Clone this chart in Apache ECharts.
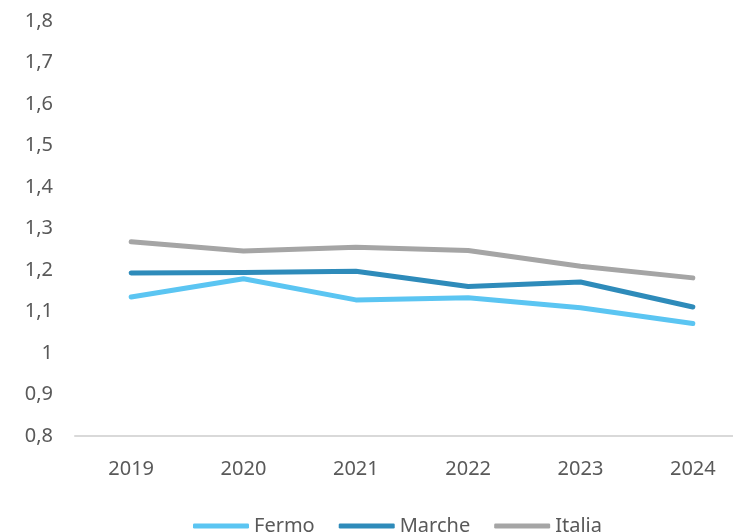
<!DOCTYPE html>
<html lang="it" style="height: 100%">
<head>
    <meta charset="UTF-8">
    <title>Fermo Marche Italia</title>
    <script src="https://cdn.jsdelivr.net/npm/echarts@6/dist/echarts.min.js"></script>
</head>
<body style="height: 100%; margin: 0; background: #fff; overflow: hidden">
    <!-- il grafico originale ha l'asse x tagliato a destra: contenitore più largo della finestra -->
    <div id="chart" style="width: 760px; height: 532px"></div>
    <script>
        // dati
        var anni = ['2019', '2020', '2021', '2022', '2023', '2024'];
        var fermo = [1.135, 1.179, 1.128, 1.133, 1.109, 1.071];
        var marche = [1.193, 1.194, 1.197, 1.160, 1.171, 1.111];
        var italia = [1.268, 1.246, 1.255, 1.247, 1.209, 1.181];
        var nomi = ['Fermo', 'Marche', 'Italia'];
        var colori = ['#5BC5F2', '#2E8BBA', '#A5A5A5'];

        var chart = echarts.init(document.getElementById('chart'));

        function serie(nome, dati, colore) {
            return {
                name: nome,
                type: 'line',
                data: dati,
                symbol: 'none',
                smooth: false,
                lineStyle: { color: colore, width: 5, cap: 'round', join: 'round' },
                itemStyle: { color: colore }
            };
        }

        var testo = { color: '#595959', fontSize: 20, fontFamily: 'Noto Sans' };

        chart.setOption({
            animation: false,
            grid: { left: 75, top: 21, width: 674, height: 415, containLabel: false },
            legend: {
                left: 188,
                top: 511,
                itemWidth: 56,
                itemHeight: 5,
                itemGap: 24,
                icon: 'roundRect',
                textStyle: testo,
                data: nomi
            },
            xAxis: {
                type: 'category',
                data: anni,
                boundaryGap: true,
                axisLine: { lineStyle: { color: '#D9D9D9', width: 2 } },
                axisTick: { show: false },
                axisLabel: Object.assign({ margin: 23 }, testo)
            },
            yAxis: {
                type: 'value',
                min: 0.8,
                max: 1.8,
                interval: 0.1,
                splitLine: { show: false },
                axisLine: { show: false },
                axisTick: { show: false },
                axisLabel: Object.assign({
                    margin: 22,
                    formatter: function (v) {
                        return (Math.round(v * 10) / 10).toString().replace('.', ',');
                    }
                }, testo)
            },
            series: [
                serie(nomi[0], fermo, colori[0]),
                serie(nomi[1], marche, colori[1]),
                serie(nomi[2], italia, colori[2])
            ]
        });
    </script>
</body>
</html>
